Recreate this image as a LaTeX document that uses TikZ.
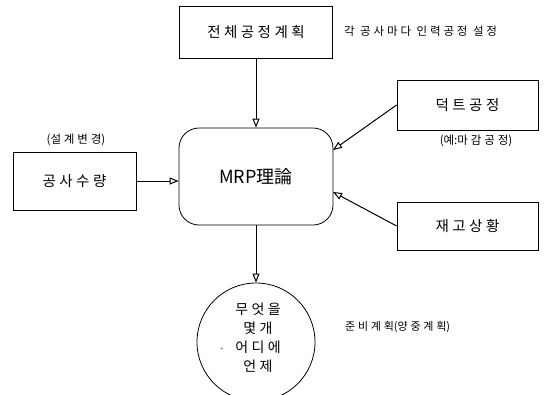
\documentclass[tikz,border=0pt]{standalone}
\usepackage{fontspec}
\setmainfont{Noto Sans CJK KR}
\newfontfamily\boxfont[LetterSpace=24]{Noto Sans CJK KR}
\newfontfamily\lblfont[LetterSpace=25]{Noto Sans CJK KR}
\newcommand\lp{{\normalfont(}}
\newcommand\rp{{\normalfont)}}
\usetikzlibrary{arrows.meta}
\begin{document}
\begin{tikzpicture}[x=1pt,y=-1pt,
  boxst/.style={draw,line width=0.8pt,inner sep=0pt,font=\boxfont\fontsize{14.5}{16}\selectfont},
  lbl/.style={font=\lblfont\fontsize{11.5}{13}\selectfont,inner sep=0pt},
  arr/.style={-{Triangle[open,length=9pt,width=7pt]},line width=1pt}]
\useasboundingbox (0,0) rectangle (552,394);
\node[boxst,minimum width=153pt,minimum height=52pt] (plan) at (256,32) {전체공정계획};
\node[lbl,anchor=west] (planl) at (344,31) {각 공사마다 인력공정 설정};
\node[boxst,minimum width=123pt,minimum height=58pt] (qty) at (74.5,181) {공사수량};
\node[lbl] (qtyl) at (76,140) {\lp 설계변경\rp};
\node[draw,line width=0.8pt,rounded corners=20pt,minimum width=154pt,minimum height=97pt,inner sep=0pt,font=\fontsize{18}{20}\selectfont] (mrp) at (256,176.5) {MRP理論};
\node[boxst,minimum width=141pt,minimum height=50pt] (duct) at (467.5,105) {덕트공정};
\node[lbl] (ductl) at (476,141) {\lp 예{\normalfont:}마감공정\rp};
\node[boxst,minimum width=141pt,minimum height=48pt] (stock) at (467.5,226) {재고상황};
\node[draw,circle,line width=0.8pt,minimum size=118pt,inner sep=0pt] (out) at (256,342) {};
\node[font=\boxfont\fontsize{14}{19}\selectfont,align=center,inner sep=0pt] (outt) at (258,338) {무엇을\\몇개\\어디에\\언제};
\node[inner sep=0pt,font=\fontsize{10}{10}\selectfont] (dot) at (222,349) {.};
\node[lbl,anchor=west,font=\lblfont\fontsize{11}{13}\selectfont] (prep) at (345,327) {준비계획\lp 양중계획\rp};
\draw[arr] (plan.south) -- (mrp.north);
\draw[arr] (qty.east) -- (mrp.west |- qty.east);
\draw[arr] (duct.west) -- (333,150);
\draw[arr] (stock.west) -- (333,192);
\draw[arr] (mrp.south) -- (out.north);
\end{tikzpicture}
\end{document}
